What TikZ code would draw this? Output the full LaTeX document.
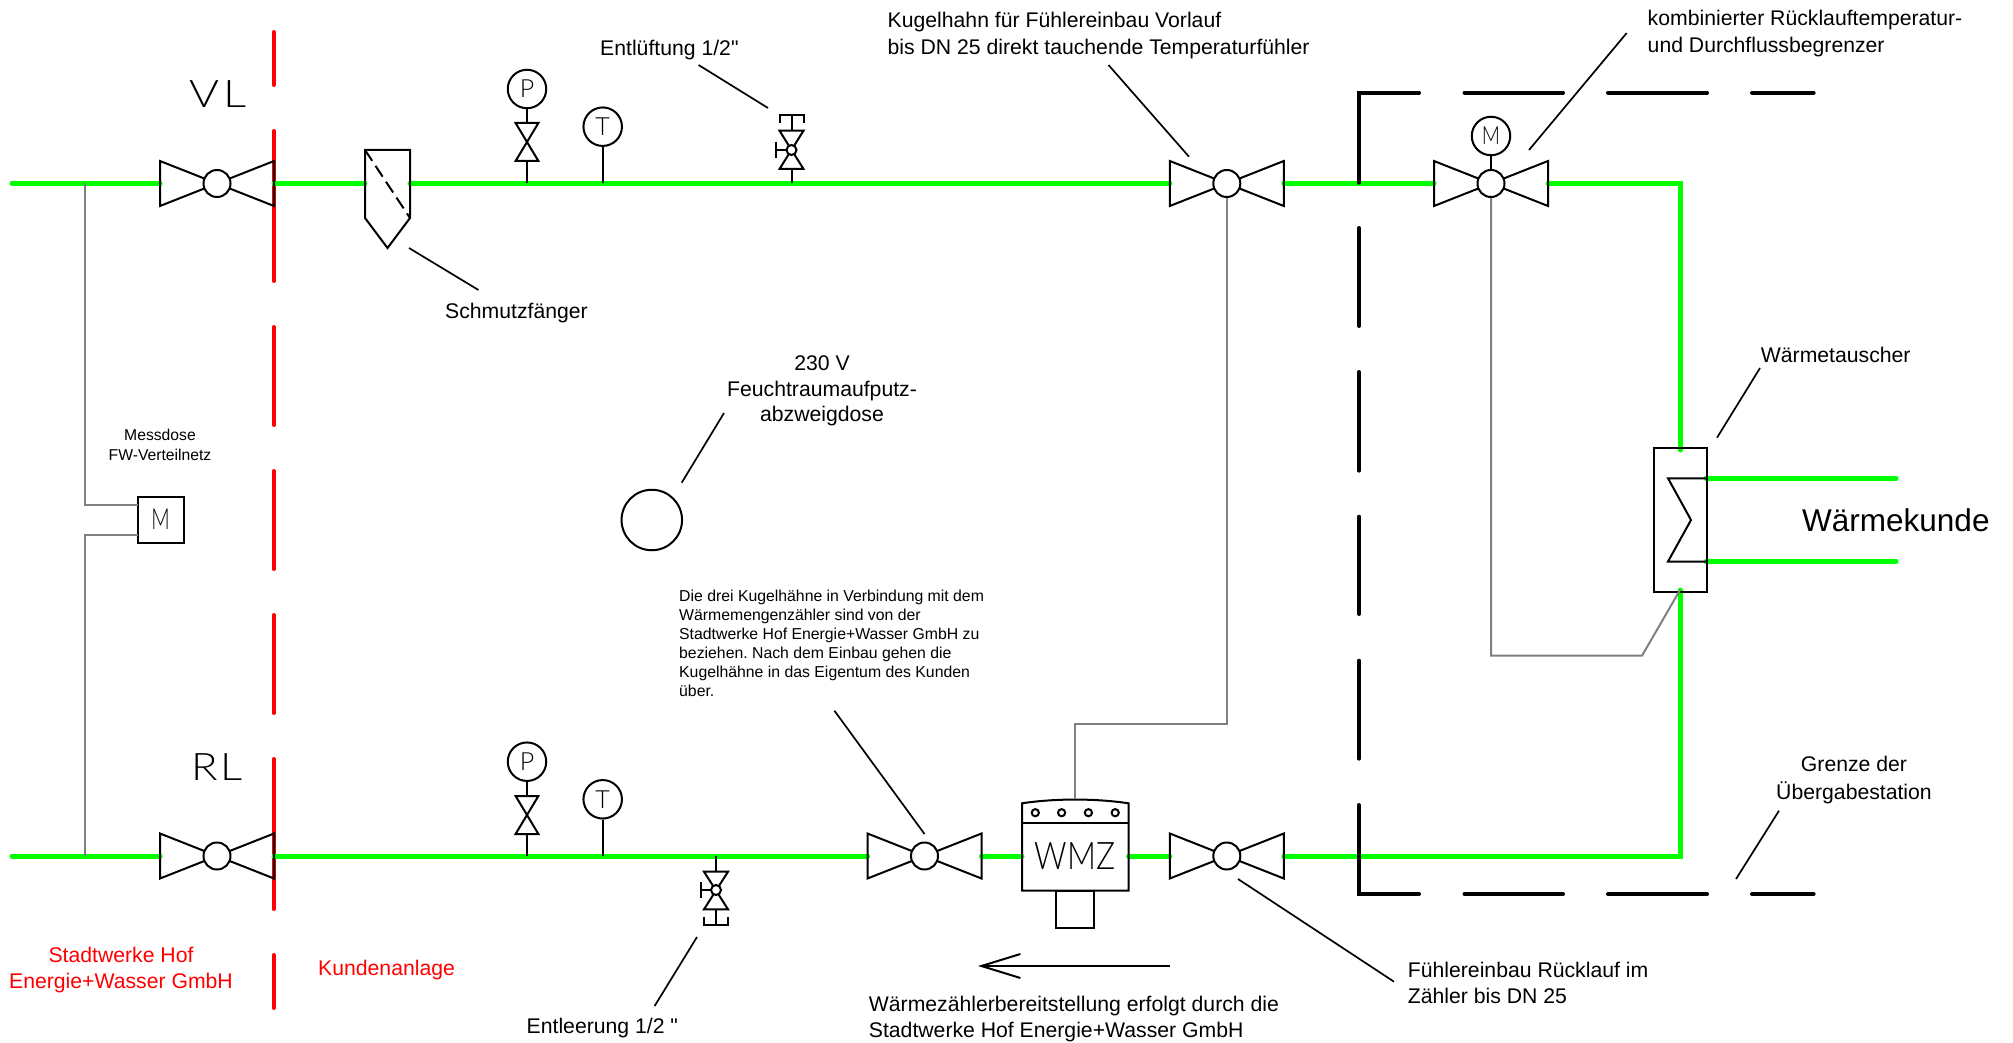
\documentclass[tikz,border=0pt]{standalone}
\usepackage{fontspec}
\setmainfont{Liberation Sans}
\newfontfamily\cadfont{Lato}[UprightFont=* Light]
\newfontfamily\zollfont{Liberation Sans}
\usetikzlibrary{arrows.meta,calc,positioning}
\definecolor{pipegreen}{rgb}{0.0, 1.0, 0.0}
\definecolor{grenzered}{rgb}{1.0, 0.0, 0.0}
\definecolor{signalgray}{rgb}{0.5, 0.5, 0.5}
\tikzset{
    pipe/.style={line width=5pt,draw=pipegreen,line cap=round,line join=miter},
    signal/.style={line width=2pt,draw=signalgray},
    part/.style={line width=2pt,draw=black,line join=miter},
    leader/.style={line width=1.7pt,draw=black},
    grenze/.style={line width=4pt,draw=black,line cap=round},
    kunde/.style={line width=4pt,draw=grenzered,line cap=round},
    gauge/.style={circle,draw,line width=2pt,minimum size=38.5pt,inner sep=0pt,font=\cadfont\fontsize{25pt}{25pt}\selectfont},
    label/.style={inner sep=0pt,align=left,font=\fontsize{21.2pt}{26.5pt}\selectfont},
    cadtext/.style={inner sep=0pt,font=\cadfont\fontsize{38pt}{38pt}\selectfont}
}
\begin{document}
\begin{tikzpicture}[x=1pt,y=-1pt]
\useasboundingbox (0,0) rectangle (2013,1043);
% ball valves: name/x/y
\foreach \n/\x/\y in {hvl/217/183.5,hvor/1226.8/183.5,hreg/1491/183.5,hrl/217/856,hzw/924.5/856,hrue/1226.8/856}{
    \coordinate (\n-l) at (\x-57,\y);
    \coordinate (\n-r) at (\x+57,\y);
}
\coordinate (vlstart) at (12,183.5);
\coordinate (rlstart) at (12,856);
\coordinate (sf-l) at (365,183.5);
\coordinate (sf-r) at (410,183.5);
\coordinate (ecke-o) at (1680,183.5);
\coordinate (ecke-u) at (1680,856);
\coordinate (wt-o) at (1680,450);
\coordinate (wt-u) at (1680,590);
\coordinate (wt-a) at (1706,478.3);
\coordinate (wt-b) at (1706,561.5);
\coordinate (kunde-a) at (1896,478.3);
\coordinate (kunde-b) at (1896,561.5);
\coordinate (wmz-l) at (1022,856);
\coordinate (wmz-r) at (1128.6,856);
% red border
\foreach \a/\b in {32/85,131/281,327/425,471/569,615/713,759/909,955/1008}{
    \draw[kunde] (273.7,\a) -- (273.7,\b);
}
% pipes
\draw[pipe] (vlstart) -- (hvl-l);
\draw[pipe] (hvl-r) -- (sf-l);
\draw[pipe] (sf-r) -- (hvor-l);
\draw[pipe] (hvor-r) -- (hreg-l);
\draw[pipe] (hreg-r) -- (ecke-o) -- (wt-o);
\draw[pipe] (wt-u) -- (ecke-u) -- (hrue-r);
\draw[pipe] (hrue-l) -- (wmz-r);
\draw[pipe] (wmz-l) -- (hzw-r);
\draw[pipe] (hzw-l) -- (hrl-r);
\draw[pipe] (hrl-l) -- (rlstart);
\draw[pipe] (wt-a) -- (kunde-a);
\draw[pipe] (wt-b) -- (kunde-b);
% border of the station
\draw[grenze] (1419,92.7) -- (1359,92.7) -- (1359,182.7);
\draw[grenze] (1359,805) -- (1359,894) -- (1419,894);
\foreach \a/\b in {228/326,372/470.7,516.7/614,660.7/758.7}{
    \draw[grenze] (1359,\a) -- (1359,\b);
}
\foreach \a/\b in {1464.5/1563,1608/1707,1752/1813.6}{
    \draw[grenze] (\a,92.7) -- (\b,92.7);
    \draw[grenze] (\a,894) -- (\b,894);
}
% valves
\foreach \n/\x/\y in {hvl/217/183.5,hvor/1226.8/183.5,hreg/1491/183.5,hrl/217/856,hzw/924.5/856,hrue/1226.8/856}{
    \draw[part] (\x-57,\y-22.5) -- (\x-57,\y+22.5) -- (\x+57,\y-22.5) -- (\x+57,\y+22.5) -- cycle;
    \node (\n) at (\x,\y) [circle,draw,line width=2pt,fill=white,minimum size=27pt,inner sep=0pt] {};
}
% strainer
\draw[part] (365,150) -- (410,150) -- (410,218) -- (387.5,248) -- (365,218) -- cycle;
\draw[part,dash pattern=on 13pt off 6pt] (365,150) -- (410,218);
% gauges
\node (pvl) at (527,89) [gauge] {P};
\node (tvl) at (602.7,126.7) [gauge] {T};
\node (prl) at (527,761.7) [gauge] {P};
\node (trl) at (602.7,799.3) [gauge] {T};
\node (mreg) at (1491,136) [gauge] {\scalebox{0.8}[1]{M}};
\coordinate (pvl-s) at (527,183.5);
\coordinate (tvl-s) at (602.7,183.5);
\coordinate (prl-s) at (527,856);
\coordinate (trl-s) at (602.7,856);
\draw[part] (pvl) -- (pvl-s);
\draw[part] (tvl) -- (tvl-s);
\draw[part] (prl) -- (prl-s);
\draw[part] (trl) -- (trl-s);
\draw[part] (mreg) -- (hreg);
\draw[part,fill=white] (515.6,123) -- (538.4,123) -- (515.6,161) -- (538.4,161) -- cycle;
\draw[part,fill=white] (515.6,796) -- (538.4,796) -- (515.6,834) -- (538.4,834) -- cycle;
% vent and drain
\draw[part,fill=white] (779.5,130.7) -- (803.5,130.7) -- (779.5,169) -- (803.5,169) -- cycle;
\draw[part] (791.5,183.5) -- (791.5,169) (791.5,130.7) -- (791.5,115) (779.5,122.7) -- (779.5,115) -- (803.5,115) -- (803.5,122.7);
\draw[part] (791.5,150) -- (776,150) (776,141.7) -- (776,157.7);
\node (ventil) at (791.5,150) [circle,draw,line width=2pt,fill=white,minimum size=10pt,inner sep=0pt] {};
\draw[part,fill=white] (704,871.7) -- (728,871.7) -- (704,909.3) -- (728,909.3) -- cycle;
\draw[part] (716,856) -- (716,871.7) (716,909.3) -- (716,925) (704,916.7) -- (704,925) -- (728,925) -- (728,916.7);
\draw[part] (716,890) -- (700.5,890) (700.5,882) -- (700.5,898);
\node (entl) at (716,890) [circle,draw,line width=2pt,fill=white,minimum size=10pt,inner sep=0pt] {};
% heat meter
\draw[part] (1056,890.7) rectangle (1094,928.3);
\draw[part] (1022,890.7) -- (1022,803.3) .. controls (1055,798.3) and (1095,798.3) .. (1128.6,803.3) -- (1128.6,890.7) -- cycle;
\draw[part] (1022,822.7) -- (1128.6,822.7);
\foreach \x in {1035.3,1061.6,1088.4,1115.2}{
    \draw[part] (\x,812.7) circle(3.6);
}
\node (wmz) at (1075,856) [cadtext] {\scalebox{0.84}[1]{WMZ}};
% heat exchanger
\node (wt) at (1680,520) [draw,line width=2pt,minimum width=53pt,minimum height=144pt,inner sep=0pt] {};
\draw[part] (wt-a) -- (1668,478.3) -- (1691,520) -- (1668,561.5) -- (wt-b);
% measuring box
\node (mess) at (160.5,519.7) [draw,line width=2pt,minimum width=46pt,minimum height=46pt,inner sep=0pt,font=\cadfont\fontsize{29pt}{29pt}\selectfont] {\scalebox{0.7}[1]{M}};
\node (dose) at (651.8,520) [circle,draw,line width=2pt,minimum size=60.5pt,inner sep=0pt] {};
% signal lines
\coordinate (abzw-vl) at (85,183.5);
\coordinate (abzw-rl) at (85,856);
\draw[signal] (abzw-vl) -- (85,505) -- (137.5,505);
\draw[signal] (137.5,534.7) -- (85,534.7) -- (abzw-rl);
\draw[signal] (hvor) -- (1226.8,724) -- (1075,724) -- (1075,799.3);
\draw[signal] (hreg) -- (1491,655.7) -- (1642,655.7) -- (wt-u);
% flow arrow
\coordinate (pfeil-a) at (1170,966);
\coordinate (pfeil-b) at (978,966);
\draw[part,-{Straight Barb[length=39pt,width=24pt]}] (pfeil-a) -- (pfeil-b);
% leaders
\foreach \a/\b/\c/\d in {409/248/478.5/290,698.6/65/768/108,1108.5/65/1189/156.7,1529/150/1626.7/33,681.7/482.7/724/413,834.4/710.7/924.5/834,697/937/654.6/1006,1238/879/1394/981.7,1779/810.7/1736/879,1717/437.7/1760/368}{
    \draw[leader] (\a,\b) -- (\c,\d);
}
% labels
\node (lvl) at (218,94.5) [cadtext] {\scalebox{1.2}[1]{V\kern3pt L}};
\node (lrl) at (217,767) [cadtext] {\scalebox{1.15}[1]{R\kern2pt L}};
\node (lent) at (600,50) [label,anchor=west] {Entlüftung 1/2{\zollfont"}};
\node (lschm) at (445,313) [label,anchor=west] {Schmutzfänger};
\node (lkug) at (887.5,35.5) [label,anchor=west] {Kugelhahn für Fühlereinbau Vorlauf\\bis DN 25 direkt tauchende Temperaturfühler};
\node (lkomb) at (1647.5,33.5) [label,anchor=west] {kombinierter Rücklauftemperatur-\\und Durchflussbegrenzer};
\node (ltau) at (1760.7,355) [label,anchor=west] {Wärmetauscher};
\node (lkunde) at (1802,520) [label,anchor=west,font=\fontsize{31.5pt}{31.5pt}\selectfont] {Wärmekunde};
\node (lgrenz) at (1854,780) [label,align=center,font=\fontsize{21.2pt}{28pt}\selectfont] {Grenze der\\Übergabestation};
\node (lruek) at (1407.7,983) [label,anchor=west] {Fühlereinbau Rücklauf im\\Zähler bis DN 25};
\node (lwmz) at (868.7,1019) [label,anchor=west] {Wärmezählerbereitstellung erfolgt durch die\\Stadtwerke Hof Energie+Wasser GmbH};
\node (lentl) at (526.5,1028.5) [label,anchor=west] {Entleerung 1/2 {\zollfont"}};
\node (ldose) at (822,391) [label,align=center,font=\fontsize{21.2pt}{25.5pt}\selectfont] {230 V\\Feuchtraumaufputz-\\abzweigdose};
\node (lmess) at (160,445) [label,align=center,font=\fontsize{15.7pt}{20pt}\selectfont] {Messdose\\FW-Verteilnetz};
\node (ldrei) at (679,643.5) [label,anchor=west,font=\frenchspacing\fontsize{15.8pt}{19pt}\selectfont] {Die drei Kugelhähne in Verbindung mit dem\\Wärmemengenzähler sind von der\\Stadtwerke Hof Energie+Wasser GmbH zu\\beziehen. Nach dem Einbau gehen die\\Kugelhähne in das Eigentum des Kunden\\über.};
\node (lstadt) at (121,970) [label,align=center,text=grenzered] {Stadtwerke Hof\\Energie+Wasser GmbH};
\node (lkd) at (318,970) [label,anchor=west,text=grenzered] {Kundenanlage};
\end{tikzpicture}
\end{document}
